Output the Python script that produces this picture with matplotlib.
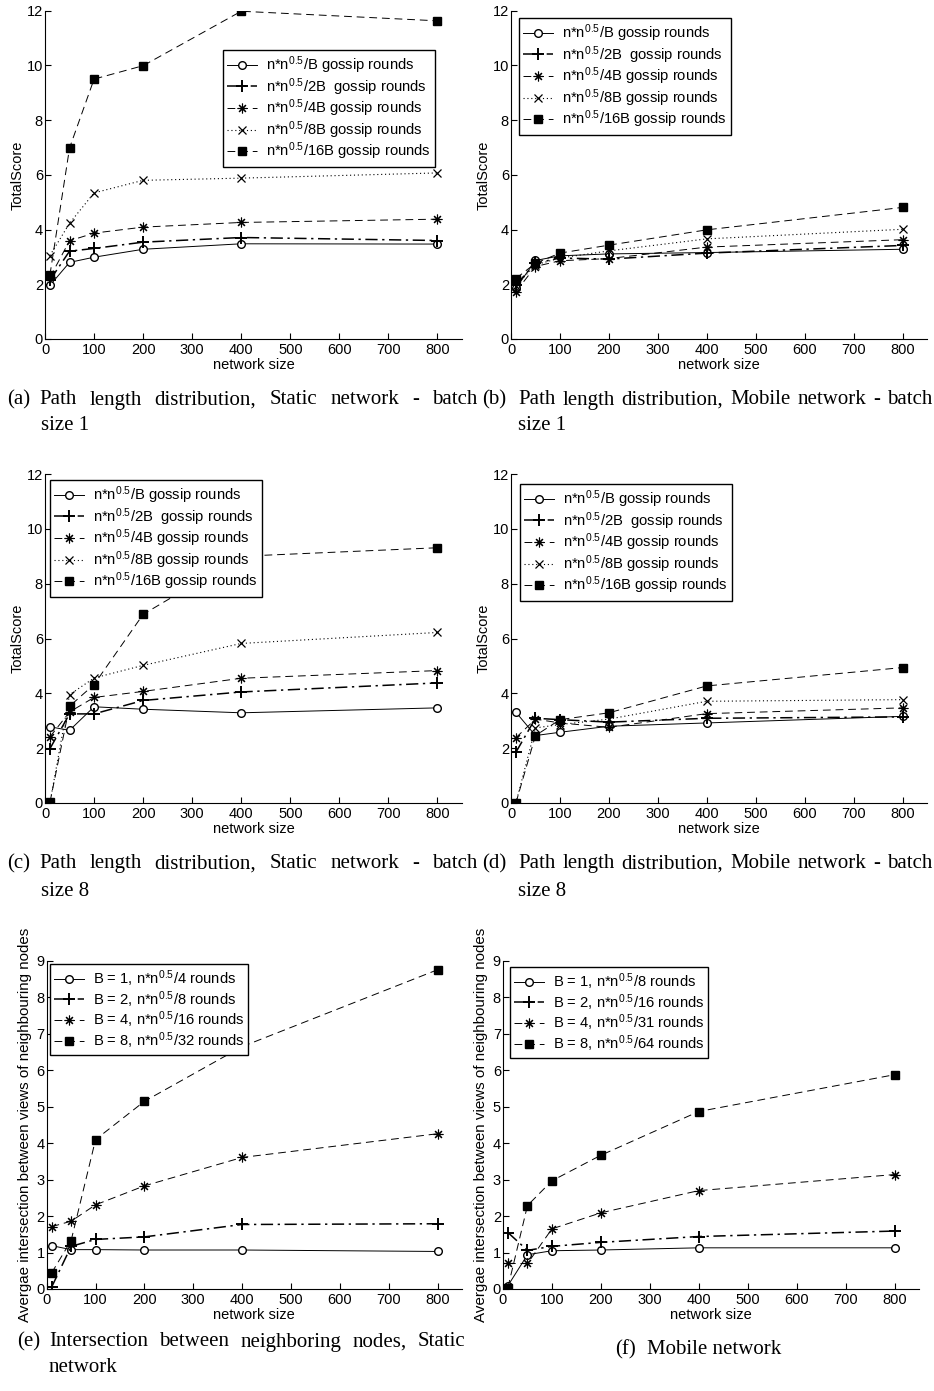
import matplotlib
matplotlib.use('Agg')
import matplotlib.pyplot as plt

# network sizes on the x axis
network_size = [10, 50, 100, 200, 400, 800]

# (a) static network, batch size 1
a_B = [1.96, 2.80, 2.99, 3.28, 3.48, 3.47]
a_2B = [2.15, 3.21, 3.31, 3.54, 3.71, 3.60]
a_4B = [2.25, 3.59, 3.87, 4.09, 4.26, 4.38]
a_8B = [3.05, 4.23, 5.34, 5.80, 5.88, 6.07]
a_16B = [2.34, 6.98, 9.50, 9.99, 11.98, 11.63]

# (b) mobile network, batch size 1
b_B = [1.86, 2.87, 3.04, 3.11, 3.16, 3.28]
b_2B = [1.98, 2.77, 2.96, 2.92, 3.14, 3.42]
b_4B = [1.73, 2.65, 2.86, 2.94, 3.36, 3.63]
b_8B = [1.95, 2.71, 2.96, 3.22, 3.66, 4.01]
b_16B = [2.21, 2.77, 3.14, 3.43, 3.99, 4.81]

# (c) static network, batch size 8
c_B = [2.78, 2.65, 3.51, 3.42, 3.29, 3.47]
c_2B = [1.98, 3.25, 3.25, 3.74, 4.05, 4.38]
c_4B = [2.41, 3.32, 3.85, 4.07, 4.55, 4.83]
c_8B = [0.0, 3.95, 4.56, 5.02, 5.82, 6.22]
c_16B = [0.02, 3.53, 4.32, 6.88, 9.00, 9.31]

# (d) mobile network, batch size 8
d_B = [3.31, 2.46, 2.58, 2.80, 2.92, 3.16]
d_2B = [1.85, 3.09, 3.04, 2.95, 3.09, 3.14]
d_4B = [2.38, 3.06, 2.92, 2.76, 3.26, 3.47]
d_8B = [0.0, 2.74, 2.86, 3.06, 3.71, 3.77]
d_16B = [0.0, 2.46, 3.04, 3.29, 4.27, 4.94]

# (e) intersection, static network
e_B1 = [1.19, 1.08, 1.08, 1.07, 1.07, 1.03]
e_B2 = [0.05, 1.17, 1.36, 1.43, 1.77, 1.79]
e_B4 = [1.71, 1.86, 2.31, 2.83, 3.61, 4.26]
e_B8 = [0.44, 1.33, 4.10, 5.15, 6.65, 8.76]

# (f) intersection, mobile network
f_B1 = [0.09, 0.94, 1.05, 1.07, 1.13, 1.13]
f_B2 = [1.55, 1.06, 1.17, 1.28, 1.44, 1.59]
f_B4 = [0.70, 0.70, 1.65, 2.09, 2.70, 3.14]
f_B8 = [0.04, 2.29, 2.97, 3.67, 4.87, 5.88]

SUP = r'n*$\mathregular{n^{0.5}}$'
gossip_labels = [SUP + '/B gossip rounds', SUP + '/2B  gossip rounds', SUP + '/4B gossip rounds',
                 SUP + '/8B gossip rounds', SUP + '/16B gossip rounds']
e_labels = ['B = 1, ' + SUP + '/4 rounds', 'B = 2, ' + SUP + '/8 rounds',
            'B = 4, ' + SUP + '/16 rounds', 'B = 8, ' + SUP + '/32 rounds']
f_labels = ['B = 1, ' + SUP + '/8 rounds', 'B = 2, ' + SUP + '/16 rounds',
            'B = 4, ' + SUP + '/31 rounds', 'B = 8, ' + SUP + '/64 rounds']

plt.rcParams['font.family'] = ['Liberation Sans', 'DejaVu Sans']
plt.rcParams['mathtext.fontset'] = 'custom'
plt.rcParams['mathtext.rm'] = 'Liberation Sans'
plt.rcParams['font.size'] = 10

W, H = 934, 1391
fig = plt.figure(figsize=(W / 100, H / 100), dpi=100)

CIRCLE = dict(ls='-', marker='o', mfc='white', ms=5.5, lw=0.7)
PLUS = dict(ls=(0, (8, 3, 1.5, 3)), marker='+', ms=8, mew=1.4, lw=1.1)
STAR = dict(ls=(0, (8, 5)), marker=(8, 2, 0), ms=7, mew=0.8, lw=0.7)
CROSS = dict(ls=(0, (1, 2.5)), marker='x', ms=6, mew=0.9, lw=0.8)
SQUARE = dict(ls=(0, (8, 5)), marker='s', mfc='black', ms=6, lw=0.7)


def make_axes(left, top, right, bottom, ymax, ylabel, label_x, ylabel_size):
    ax = fig.add_axes([left / W, 1 - bottom / H, (right - left) / W, (bottom - top) / H])
    ax.set_xlim(0, 850)
    ax.set_ylim(0, ymax)
    ax.set_xticks(range(0, 801, 100))
    ax.set_yticks(range(0, ymax + 1, 2 if ymax == 12 else 1))
    for side in ['top', 'right']:
        ax.spines[side].set_visible(False)
    for side in ['left', 'bottom']:
        ax.spines[side].set_linewidth(0.8)
    ax.tick_params(direction='in', length=4, width=0.8, labelsize=10.5)
    ax.tick_params(axis='x', pad=3)
    ax.tick_params(axis='y', pad=1.5)
    ax.set_xlabel('network size', fontsize=10.5)
    ax.xaxis.set_label_coords(0.5, -0.058)
    ax.set_ylabel(ylabel, fontsize=ylabel_size)
    ax.yaxis.set_label_coords(label_x, 0.5)
    return ax


def draw(ax, series, styles, labels, anchor):
    for ys, st, lab in zip(series, styles, labels):
        ax.plot(network_size, ys, color='black', mec='black', label=lab, **st)
    leg = ax.legend(loc='upper left', bbox_to_anchor=(anchor[0] / W, 1 - anchor[1] / H),
                    bbox_transform=fig.transFigure, borderaxespad=0, fancybox=False,
                    framealpha=1, edgecolor='black', fontsize=10.6, labelspacing=0.0,
                    borderpad=0.3, handlelength=2.0, handletextpad=0.6)
    leg.get_frame().set_linewidth(1.0)


five = [CIRCLE, PLUS, STAR, CROSS, SQUARE]
four = [CIRCLE, PLUS, STAR, SQUARE]
yl_e = 'Avergae intersection between views of neighbouring nodes'

ax = make_axes(45, 10.7, 462, 339, 12, 'TotalScore', -0.05, 10.5)
draw(ax, [a_B, a_2B, a_4B, a_8B, a_16B], five, gossip_labels, (223, 50))
ax = make_axes(511, 10.7, 927, 339, 12, 'TotalScore', -0.05, 10.5)
draw(ax, [b_B, b_2B, b_4B, b_8B, b_16B], five, gossip_labels, (519, 18))
ax = make_axes(45, 474, 462, 803, 12, 'TotalScore', -0.05, 10.5)
draw(ax, [c_B, c_2B, c_4B, c_8B, c_16B], five, gossip_labels, (50, 480))
ax = make_axes(511, 474, 927, 803, 12, 'TotalScore', -0.05, 10.5)
draw(ax, [d_B, d_2B, d_4B, d_8B, d_16B], five, gossip_labels, (520, 484))
ax = make_axes(46.7, 961, 462, 1289, 9, yl_e, -0.035, 10.9)
draw(ax, [e_B1, e_B2, e_B4, e_B8], four, e_labels, (50, 964))
ax = make_axes(503, 961, 919, 1289, 9, yl_e, -0.035, 10.9)
draw(ax, [f_B1, f_B2, f_B4, f_B8], four, f_labels, (510, 967))

# captions (Times-like, justified first line)
CAP = dict(family='Liberation Serif', fontsize=15, va='center')
renderer = fig.canvas.get_renderer()


def put(x, y, s):
    return fig.text(x / W, 1 - y / H, s, **CAP)


def justified(label, x_label, x_text, x_end, y, line):
    put(x_label, y, label)
    words = line.split()
    texts = [put(0, y, w) for w in words]
    widths = [t.get_window_extent(renderer).width for t in texts]
    gap = (x_end - x_text - sum(widths)) / (len(words) - 1)
    x = x_text
    for t, w in zip(texts, widths):
        t.set_x(x / W)
        x += w + gap


justified('(a)', 7, 39, 477, 400, 'Path length distribution, Static network - batch')
put(41, 426, 'size 1')
justified('(b)', 482, 518, 932, 400, 'Path length distribution, Mobile network - batch')
put(518, 426, 'size 1')
justified('(c)', 7, 39, 477, 864, 'Path length distribution, Static network - batch')
put(41, 891, 'size 8')
justified('(d)', 482, 518, 932, 864, 'Path length distribution, Mobile network - batch')
put(518, 891, 'size 8')
justified('(e)', 17, 49, 465, 1342, 'Intersection between neighboring nodes, Static')
put(49, 1367, 'network')
put(615, 1350, '(f)')
put(647, 1350, 'Mobile network')

fig.savefig('out.png', dpi=100)
